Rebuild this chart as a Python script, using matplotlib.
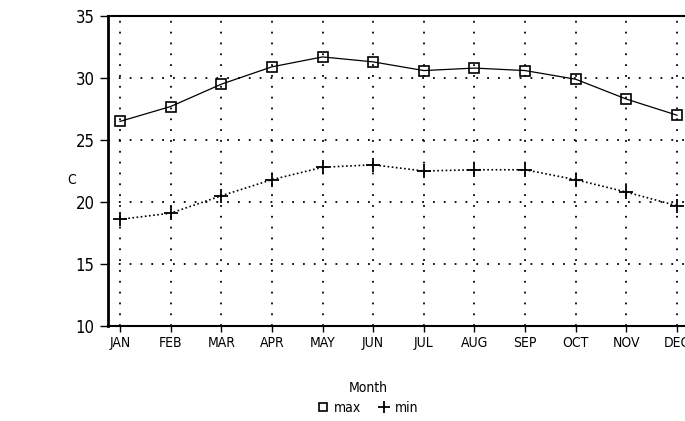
import matplotlib
matplotlib.use('Agg')
import matplotlib.pyplot as plt
from matplotlib.lines import Line2D

months = ['JAN', 'FEB', 'MAR', 'APR', 'MAY', 'JUN', 'JUL', 'AUG', 'SEP', 'OCT', 'NOV', 'DEC']
t_max = [26.5, 27.7, 29.5, 30.9, 31.7, 31.3, 30.6, 30.8, 30.6, 29.9, 28.3, 27.0]
t_min = [18.6, 19.1, 20.5, 21.8, 22.8, 23.0, 22.5, 22.6, 22.6, 21.8, 20.8, 19.7]
y_ticks = [10, 15, 20, 25, 30, 35]

plt.rcParams['font.family'] = ['DejaVu Sans']
plt.rcParams['font.stretch'] = 'condensed'

fig = plt.figure(figsize=(6.85, 4.21), dpi=100)
ax = fig.add_axes([108/685, 1-326/421, 1-108/685, 310/421])

x = list(range(len(months)))
ax.plot(x, t_max, color='black', lw=0.9, marker='s', ms=6.5, mfc='none', mec='black', mew=1.2)
ax.plot(x, t_min, color='black', lw=1.2, ls=(0, (1, 1.5)), marker='+', ms=10, mew=1.3)

ax.set_xlim(-0.237, 11.158)
ax.set_ylim(10, 35)
ax.set_xticks(x)
ax.set_xticklabels(months, fontsize=10)
ax.set_yticks(y_ticks)
ax.set_yticklabels([str(v) for v in y_ticks], fontsize=12)
ax.grid(True, color='black', ls=(0, (1, 5)), lw=1.3)
ax.tick_params(axis='y', direction='out', length=6, width=1)
ax.tick_params(axis='x', direction='out', length=4, width=1, pad=3)

ax.spines['left'].set_linewidth(2)
ax.spines['top'].set_linewidth(1.5)
ax.spines['bottom'].set_linewidth(1.5)
ax.spines['right'].set_visible(False)

fig.text(72/685, 1-180/421, 'C', fontsize=10, ha='center', va='center')
fig.text(368/685, 1-388/421, 'Month', fontsize=10, ha='center', va='center')

handles = [Line2D([], [], color='none', marker='s', ms=6, mfc='none', mec='black', mew=1.2),
           Line2D([], [], color='none', marker='+', ms=9, mec='black', mew=1.3)]
fig.legend(handles, ['max', 'min'], loc='center', bbox_to_anchor=(368/685, 1-408/421),
           ncol=2, frameon=False, fontsize=10, handlelength=0.8, handletextpad=0.4,
           columnspacing=1.2)

fig.savefig('out.png', dpi=100)
